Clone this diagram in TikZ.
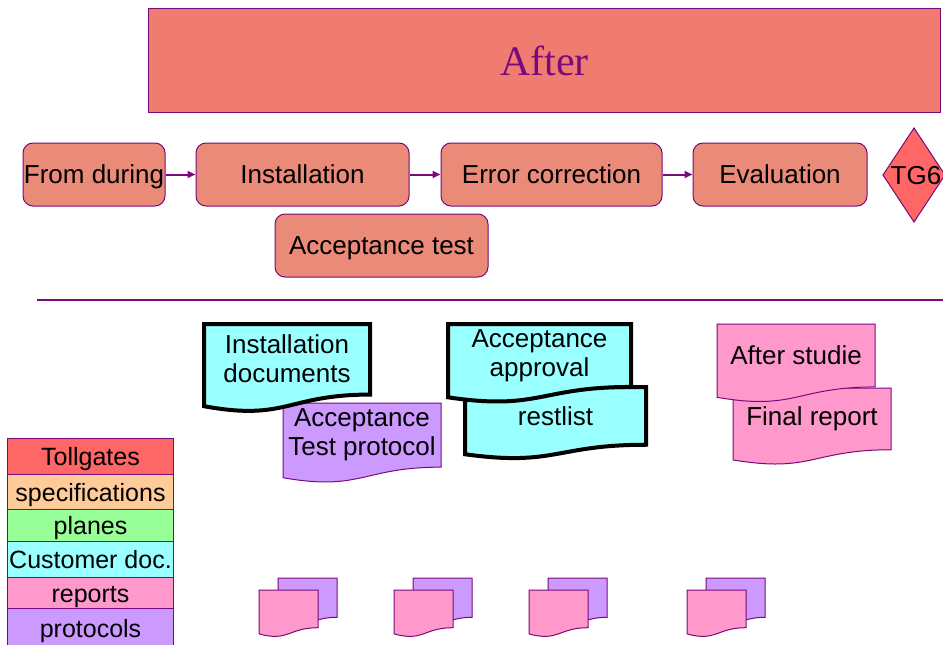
\documentclass[tikz,border=0pt]{standalone}
\usepackage{fontspec}
\setmainfont{Liberation Sans}
\newfontfamily\titlefont{Liberation Serif}
\usetikzlibrary{arrows.meta}

\definecolor{frame}{HTML}{7A0A7A}
\definecolor{titlefill}{HTML}{F07B70}
\definecolor{stepfill}{HTML}{EA8A78}
\definecolor{gatefill}{HTML}{FF6666}
\definecolor{specfill}{HTML}{FFCC99}
\definecolor{planfill}{HTML}{99FF99}
\definecolor{custfill}{HTML}{99FFFF}
\definecolor{repfill}{HTML}{FF99CC}
\definecolor{protfill}{HTML}{CC99FF}

\tikzset{
    txt/.style={font=\fontsize{26}{29}\selectfont},
    line/.style={txt, text height=23.5pt, text depth=5.5pt},
    stepbox/.style={line, draw=frame, line width=1pt, fill=stepfill, rounded corners=10pt,
        minimum height=63pt, inner sep=0pt},
    flow/.style={draw=frame, line width=2pt, -{Triangle[length=8pt,width=7pt]}},
    legendbox/.style={line, font=\fontsize{25}{28}\selectfont, draw=frame, line width=1pt,
        minimum width=166pt, inner sep=0pt, anchor=north west},
    custdoc/.style={fill=custfill, draw=black, line width=4pt},
    repdoc/.style={fill=repfill, draw=frame, line width=1pt},
    protdoc/.style={fill=protfill, draw=frame, line width=1pt},
    doctext/.style={txt, align=center, inner sep=0pt}
}

% document shape: x, y (top left), width, height
\newcommand{\docshape}[5]{%
    \draw[#1] (#2,#3) -- ({#2+#4},#3) -- ({#2+#4},{#3+0.802*#5})
        .. controls ({#2+0.5*#4},{#3+0.802*#5}) and ({#2+0.5*#4},{#3+1.107*#5}) .. (#2,{#3+0.934*#5}) -- cycle;}
\newcommand{\docbox}[7]{%
    \docshape{#1}{#2}{#3}{#4}{#5}
    \node[doctext] (#6) at ({#2+0.5*#4},{#3+0.4*#5}) {#7};}

\begin{document}
\begin{tikzpicture}[x=1pt, y=-1pt]
    \useasboundingbox[fill=white] (0,0) rectangle (943,645);

    % header
    \node[draw=frame, line width=1pt, fill=titlefill, minimum width=792pt, minimum height=104pt,
        anchor=north west, text=frame, font=\titlefont\fontsize{42}{48}\selectfont] (after) at (148,8) {After};

    % process steps
    \node[stepbox, minimum width=142pt] (fromduring) at (94,174.5) {From during};
    \node[stepbox, minimum width=213pt] (installation) at (302.5,174.5) {Installation};
    \node[stepbox, minimum width=221pt] (errorcorr) at (551.5,174.5) {Error correction};
    \node[stepbox, minimum width=174pt] (evaluation) at (780,174.5) {Evaluation};
    \node[stepbox, minimum width=213pt] (acctest) at (381.5,245.5) {Acceptance test};
    \draw[fill=gatefill, draw=frame, line width=1pt] (914,128) -- (945,175) -- (914,222) -- (883,175) -- cycle;
    \node[line, inner sep=0pt] (tg6) at (916,175) {TG6};

    \draw[flow] (fromduring) -- (installation);
    \draw[flow] (installation) -- (errorcorr);
    \draw[flow] (errorcorr) -- (evaluation);

    \draw[draw=frame, line width=2.5pt] (37,300) coordinate (sepl) -- (943,300) coordinate (sepr);

    % documents
    \docbox{protdoc}{283}{403}{158}{80}{accprot}{Acceptance\\Test protocol}
    \docbox{custdoc}{204}{324}{166}{88}{instdocs}{Installation\\documents}
    \docbox{custdoc}{465}{387}{181}{72}{restlist}{restlist}
    \docbox{custdoc}{448}{324}{183}{78.5}{accappr}{Acceptance\\approval}
    \docbox{repdoc}{733}{388}{158}{77}{finalrep}{Final report}
    \docbox{repdoc}{717}{324}{158}{78.5}{afterstud}{After studie}

    % small document icons
    \foreach \x in {259,394,529,687} {
        \docshape{protdoc}{\x+19}{578}{59}{49}
        \docshape{repdoc}{\x}{590}{59}{47}
    }

    % legend
    \node[legendbox, fill=gatefill, minimum height=36pt] (tollgates) at (7,438) {Tollgates};
    \node[legendbox, fill=specfill, minimum height=35pt] (specs) at (7,474) {specifications};
    \node[legendbox, fill=planfill, minimum height=32pt] (planes) at (7,509) {planes};
    \node[legendbox, fill=custfill, minimum height=36pt] (custdocs) at (7,541) {Customer doc.};
    \node[legendbox, fill=repfill, minimum height=31pt] (reports) at (7,577) {reports};
    \node[legendbox, fill=protfill, minimum height=40pt] (protocols) at (7,608) {protocols};
\end{tikzpicture}
\end{document}
